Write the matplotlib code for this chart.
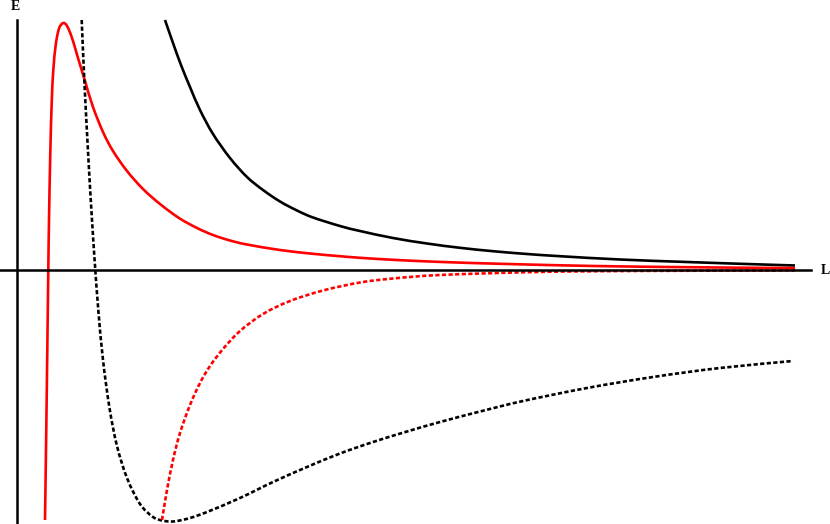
import matplotlib
matplotlib.use('Agg')
import numpy as np
import matplotlib.pyplot as plt
from matplotlib.path import Path
from matplotlib.patches import PathPatch

# valores (L na horizontal, E na vertical, unidades arbitrarias)
L_preto = [14.8, 15.6, 16.4, 17.3, 18.3, 19.6, 21.3, 23.0, 24.6, 26.3, 28.0, 29.6,
           32.3, 34.3, 37.6, 41.0, 44.3, 47.6, 51.0, 54.3, 60.3, 67.0, 73.6, 77.8]
E_preto = [25.0, 22.7, 20.5, 18.3, 16.0, 13.6, 11.2, 9.3, 8.0, 6.85, 5.95, 5.25,
           4.4, 3.9, 3.2, 2.65, 2.22, 1.88, 1.6, 1.38, 1.05, 0.8, 0.58, 0.45]

L_verm = [2.80, 2.92, 3.03, 3.13, 3.20, 3.33, 3.47, 3.63, 3.87, 4.13, 4.35, 4.63,
          4.90, 5.20, 5.60, 6.10, 6.80, 7.60, 8.60, 9.60, 11.0, 12.6, 14.3, 16.2,
          18.0, 19.6, 21.3, 23.0, 26.3, 29.6, 32.3, 34.3, 37.6, 41.0, 44.3, 47.6,
          54.3, 60.3, 67.0, 73.6, 77.8]
E_verm = [-25.0, -16.5, -8.0, 0.0, 5.0, 11.7, 16.7, 20.0, 22.5, 23.9, 24.45, 24.7,
          24.55, 24.0, 22.9, 21.2, 18.9, 16.3, 13.8, 11.9, 9.9, 8.1, 6.6, 5.2,
          4.2, 3.5, 2.95, 2.55, 2.0, 1.62, 1.38, 1.22, 1.02, 0.86, 0.74, 0.64,
          0.47, 0.36, 0.28, 0.22, 0.19]

L_preto_pont = [6.47, 6.64, 6.83, 7.04, 7.26, 7.50, 7.76, 8.13, 8.60, 9.25, 10.0,
                11.0, 12.3, 13.6, 14.5, 15.3, 16.0, 17.3, 19.0, 22.3, 25.6, 29.0,
                32.3, 35.6, 39.0, 42.3, 46.5, 50.6, 57.0, 63.6, 70.3, 77.6]
E_preto_pont = [25.0, 21.0, 17.0, 13.0, 9.0, 5.0, 1.0, -4.0, -9.0, -13.8, -17.6,
                -20.8, -23.4, -24.7, -25.05, -25.15, -25.1, -24.8, -24.2, -22.8,
                -21.2, -19.7, -18.35, -17.2, -16.15, -15.2, -14.1, -13.1, -11.8,
                -10.7, -9.8, -9.1]

L_verm_pont = [14.5, 15.0, 15.6, 16.3, 17.3, 18.3, 19.3, 20.6, 22.3, 24.6, 27.3,
               30.6, 34.3, 37.6, 42.3, 51.0, 58.3, 68.3, 77.8]
E_verm_pont = [-25.0, -22.0, -19.0, -16.3, -13.5, -11.3, -9.6, -7.9, -6.1, -4.4,
               -3.1, -2.05, -1.25, -0.85, -0.5, -0.22, -0.12, -0.07, -0.05]


def curva(ax, xs, ys, **kw):
    # passa uma curva suave (Catmull-Rom -> Bezier) pelos pontos lidos
    p = np.column_stack([xs, ys])
    verts = [p[0]]
    codes = [Path.MOVETO]
    for i in range(len(p) - 1):
        p0 = p[i - 1] if i > 0 else p[i]
        p3 = p[i + 2] if i + 2 < len(p) else p[i + 1]
        c1 = p[i] + (p[i + 1] - p0) / 6
        c2 = p[i + 1] - (p3 - p[i]) / 6
        verts += [c1, c2, p[i + 1]]
        codes += [Path.CURVE4] * 3
    ax.add_patch(PathPatch(Path(verts, codes), fill=False, **kw))


fig = plt.figure(figsize=(8.3, 5.24), dpi=100)
ax = fig.add_axes([0, 0, 1, 1])
ax.set_xlim(-1.7, 81.3)
ax.set_ylim(-25.4, 27.0)

pont = (0, (1.6, 0.9))
curva(ax, L_preto, E_preto, edgecolor='black', lw=1.9)
curva(ax, L_verm, E_verm, edgecolor='red', lw=1.9)
curva(ax, L_preto_pont, E_preto_pont, edgecolor='black', lw=1.9, linestyle=pont)
curva(ax, L_verm_pont, E_verm_pont, edgecolor='red', lw=1.9, linestyle=pont)

# eixos passando pela origem
for s in ['top', 'right']:
    ax.spines[s].set_visible(False)
ax.spines['left'].set_position(('data', 0))
ax.spines['bottom'].set_position(('data', 0))
ax.spines['left'].set_bounds(-25.4, 25.0)
ax.spines['bottom'].set_bounds(-1.7, 79.4)
ax.spines['left'].set_linewidth(1.8)
ax.spines['bottom'].set_linewidth(1.8)
ax.set_xticks([])
ax.set_yticks([])
ax.patch.set_visible(False)

fonte = dict(family='Liberation Serif', weight='bold', fontsize=10)
ax.text(-0.2, 26.3, 'E', ha='center', va='center', **fonte)
ax.text(80.8, 0.0, 'L', ha='center', va='center', **fonte)

fig.savefig('out.png', dpi=100)
